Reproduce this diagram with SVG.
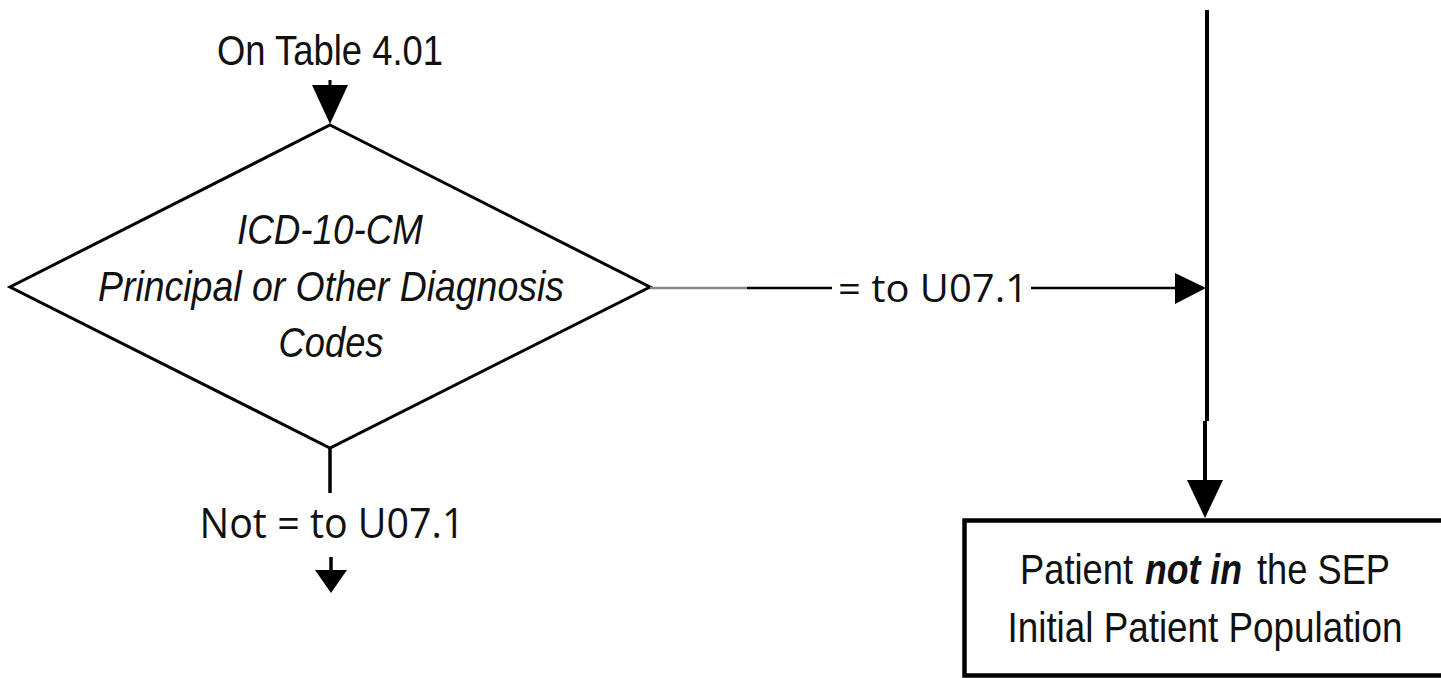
<svg xmlns="http://www.w3.org/2000/svg" width="1441" height="678" viewBox="0 0 1441 678">
<style>
.narrow{font-family:"Liberation Sans",Arial,sans-serif;font-size:42px;fill:#111}
.cal{font-family:"Open Sans","Liberation Sans",sans-serif;fill:#111}
.ln{stroke:#000;fill:none}
.gray{stroke:#888;fill:none}
.head{fill:#000;stroke:none}
</style>
<rect width="1441" height="678" fill="#fff"/>
<g id="start-label">
<text class="narrow" x="330" y="65" text-anchor="middle" textLength="226" lengthAdjust="spacingAndGlyphs">On Table 4.01</text>
</g>
<g id="decision">
<polygon points="330,125 650,287 330,448 10,287" fill="#fff" stroke="#000" stroke-width="3" stroke-linejoin="miter"/>
<text class="narrow" font-style="italic" x="330" y="244" text-anchor="middle" textLength="186" lengthAdjust="spacingAndGlyphs">ICD-10-CM</text>
<text class="narrow" font-style="italic" x="331" y="301" text-anchor="middle" textLength="466" lengthAdjust="spacingAndGlyphs">Principal or Other Diagnosis</text>
<text class="narrow" font-style="italic" x="331" y="357" text-anchor="middle" textLength="105" lengthAdjust="spacingAndGlyphs">Codes</text>
</g>
<g id="result-box">
<rect x="964.5" y="520.5" width="490" height="155" fill="#fff" stroke="#000" stroke-width="4.5"/>
<text class="narrow" font-size="43" x="1020" y="584" textLength="113" lengthAdjust="spacingAndGlyphs">Patient</text>
<text class="narrow" font-size="43" x="1145" y="584" font-weight="bold" font-style="italic" textLength="97" lengthAdjust="spacingAndGlyphs">not in</text>
<text class="narrow" font-size="43" x="1257" y="584" textLength="133" lengthAdjust="spacingAndGlyphs">the SEP</text>
<text class="narrow" font-size="43" x="1205" y="642" text-anchor="middle" textLength="395" lengthAdjust="spacingAndGlyphs">Initial Patient Population</text>
</g>
<g id="connectors">
<line class="ln" x1="330" y1="80" x2="330" y2="90" stroke-width="3"/>
<polygon class="head" points="312,85 348,85 330,124"/>
<line class="gray" x1="650" y1="288" x2="747" y2="288" stroke-width="2.5"/>
<line class="ln" x1="747" y1="288" x2="832" y2="288" stroke-width="2.5"/>
<line class="ln" x1="1031" y1="288" x2="1178" y2="288" stroke-width="2.5"/>
<polygon class="head" points="1175,273 1206,288 1175,304"/>
<line class="ln" x1="1207" y1="10" x2="1207" y2="421" stroke-width="4"/>
<line class="ln" x1="1205" y1="421" x2="1205" y2="484" stroke-width="4"/>
<polygon class="head" points="1187,480 1223,480 1205,518"/>
<line class="ln" x1="330" y1="448" x2="330" y2="493" stroke-width="3.5"/>
<line class="ln" x1="331" y1="557" x2="331" y2="572" stroke-width="3.5"/>
<polygon class="head" points="315,570 347,570 331,593"/>
<text class="cal" font-size="38" x="933" y="302" text-anchor="middle" textLength="190" lengthAdjust="spacingAndGlyphs">= to U07.1</text>
<text class="cal" font-size="42" x="332" y="538" text-anchor="middle" textLength="265" lengthAdjust="spacingAndGlyphs">Not = to U07.1</text>
</g>
</svg>
